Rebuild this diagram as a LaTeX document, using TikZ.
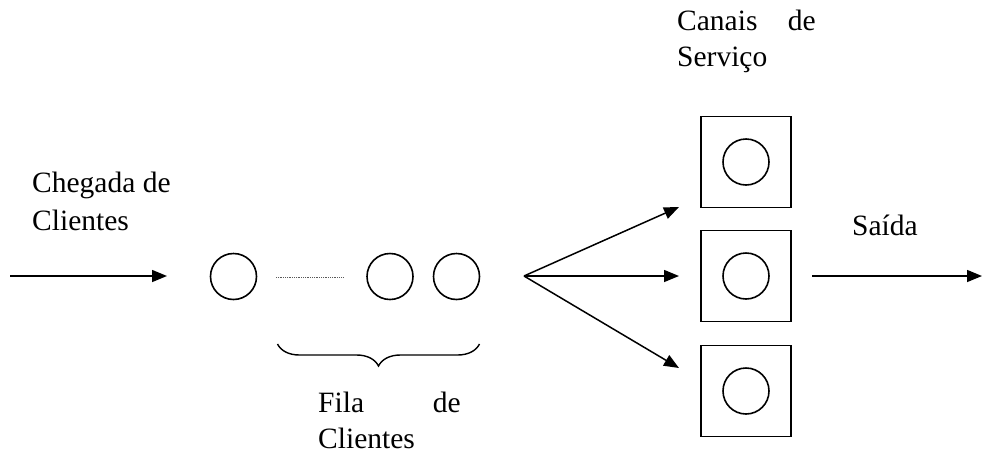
\documentclass[tikz,border=0pt]{standalone}
\usepackage{fontspec}
\setmainfont{Liberation Serif}
\usetikzlibrary{arrows.meta,decorations.pathreplacing}
\begin{document}
\begin{tikzpicture}[x=1pt,y=-1pt,
  lbl/.style={inner sep=0pt,anchor=base west,font=\fontsize{29.5}{34}\selectfont},
  cust/.style={circle,draw,line width=1.6pt,minimum size=46pt,inner sep=0pt},
  chan/.style={rectangle,draw,line width=1.6pt,minimum width=90pt,minimum height=91pt,inner sep=0pt},
  arr/.style={line width=1.5pt,-{Triangle[length=15pt,width=12pt]}}]
\useasboundingbox (0,0) rectangle (982,461);
% labels
\node[lbl] (chegada) at (32,192) {Chegada de};
\node[lbl] (clientesA) at (32,230) {Clientes};
\node[lbl] (canais) at (677,30) {Canais};
\node[lbl,anchor=base east] (canaisde) at (816,30) {de};
\node[lbl] (servico) at (677,66) {Serviço};
\node[lbl] (saida) at (852,235) {Saída};
\node[lbl] (fila) at (318,412) {Fila};
\node[lbl,anchor=base east] (filade) at (461,412) {de};
\node[lbl] (clientesB) at (318,448) {Clientes};
% queue
\node[cust] (q1) at (233.5,276.5) {};
\node[cust] (q2) at (390,276.5) {};
\node[cust] (q3) at (456.5,276.5) {};
\draw[line width=0.8pt,dash pattern=on 1pt off 0.8pt,gray!70!black] (276,277) -- (344,277);
\draw[line width=1.4pt,decorate,decoration={brace,mirror,amplitude=22pt,aspect=0.5}] (277.5,344) -- (479.5,344);
% channels
\node[chan] (b1) at (746,162) {};
\node[chan] (b2) at (746,276) {};
\node[chan] (b3) at (746,391) {};
\node[cust] (s1) at (b1.center) {};
\node[cust] (s2) at (b2.center) {};
\node[cust] (s3) at (b3.center) {};
% arrows
\coordinate (inS) at (10,276);
\coordinate (inE) at (167,276);
\draw[arr] (inS) -- (inE);
\coordinate (fan) at (524,276);
\coordinate (t1) at (679,207);
\coordinate (t2) at (679,276);
\coordinate (t3) at (679,368);
\draw[arr] (fan) -- (t1);
\draw[arr] (fan) -- (t2);
\draw[arr] (fan) -- (t3);
\coordinate (outS) at (812,276);
\coordinate (outE) at (982,276);
\draw[arr] (outS) -- (outE);
\end{tikzpicture}
\end{document}
